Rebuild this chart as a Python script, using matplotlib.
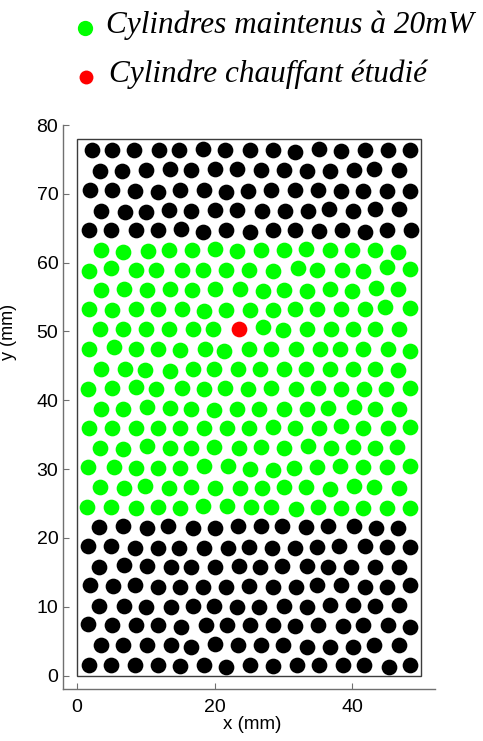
import matplotlib
matplotlib.use('Agg')
from matplotlib import pyplot as plt
from matplotlib.lines import Line2D
from matplotlib.patches import Rectangle

# cylinder centres (mm), one line per row
black_x = [
    2.1, 5.1, 8.3, 11.9, 14.8, 18.3, 21.5, 25.1, 28.4, 31.7, 35.1, 38.3, 41.8, 45.2, 48.3,
    3.3, 6.6, 10.0, 13.5, 16.6, 20.0, 23.3, 26.7, 30.1, 33.4, 36.7, 40.2, 43.2, 46.7,
    1.9, 5.1, 8.4, 11.7, 15.0, 18.5, 21.7, 24.8, 28.2, 31.6, 35.0, 38.3, 41.6, 45.0, 48.3,
    3.5, 6.9, 10.0, 13.3, 16.6, 20.1, 23.3, 26.8, 30.2, 33.5, 36.6, 40.1, 43.3, 46.7,
    1.7, 4.9, 8.5, 11.7, 15.1, 18.3, 21.7, 25.1, 28.4, 31.6, 35.1, 38.5, 41.9, 45.0, 48.5,
    3.2, 6.7, 10.2, 13.2, 16.9, 20.1, 23.4, 26.7, 29.8, 33.3, 36.4, 40.3, 43.5, 46.6,
    1.6, 5.0, 8.4, 11.7, 14.8, 18.4, 21.9, 25.0, 28.3, 31.7, 34.9, 38.1, 41.8, 45.0, 48.4,
    3.2, 6.8, 10.1, 13.7, 16.6, 20.0, 23.5, 26.6, 29.8, 33.4, 36.5, 39.8, 43.3, 46.7,
    1.9, 5.2, 8.4, 11.8, 15.0, 18.3, 21.6, 25.0, 28.4, 31.8, 34.9, 38.3, 41.9, 45.0, 48.3,
    3.2, 6.8, 10.0, 13.6, 16.8, 19.9, 23.3, 26.5, 30.0, 33.4, 36.8, 40.1, 43.3, 46.7,
    1.6, 5.1, 8.5, 11.7, 15.1, 18.7, 21.8, 25.1, 28.4, 31.7, 35.0, 38.6, 41.6, 45.1, 48.3,
    3.5, 6.7, 10.2, 13.6, 16.6, 20.1, 23.4, 26.7, 29.9, 33.4, 36.7, 40.1, 43.2, 46.7,
    1.7, 5.0, 8.4, 11.7, 15.0, 18.5, 21.7, 25.1, 28.4, 31.9, 35.1, 38.6, 41.7, 45.3, 48.4,
]
black_y = [
    76.3, 76.4, 76.3, 76.4, 76.3, 76.5, 76.4, 76.3, 76.3, 76.1, 76.5, 76.2, 76.3, 76.4, 76.3,
    73.3, 73.3, 73.4, 73.6, 73.4, 73.6, 73.6, 73.5, 73.4, 73.3, 73.3, 73.4, 73.6, 73.4,
    70.5, 70.5, 70.4, 70.3, 70.5, 70.5, 70.3, 70.4, 70.5, 70.5, 70.5, 70.4, 70.4, 70.4, 70.4,
    67.5, 67.4, 67.4, 67.6, 67.5, 67.6, 67.6, 67.5, 67.5, 67.5, 67.8, 67.5, 67.8, 67.8,
    64.7, 64.7, 64.7, 64.7, 64.9, 64.5, 64.7, 64.5, 64.7, 64.7, 64.6, 64.8, 64.5, 64.7, 64.7,
    21.6, 21.7, 21.5, 21.7, 21.5, 21.5, 21.7, 21.8, 21.7, 21.6, 21.7, 21.8, 21.5, 21.5,
    18.8, 18.8, 18.6, 18.6, 18.6, 18.6, 18.5, 18.7, 18.6, 18.5, 18.7, 18.8, 18.8, 18.7, 18.7,
    15.8, 16.0, 15.9, 15.8, 15.8, 15.7, 15.9, 15.7, 15.9, 15.9, 15.7, 15.7, 15.7, 15.8,
    13.1, 13.0, 13.1, 12.9, 12.9, 12.9, 12.8, 13.0, 12.9, 12.8, 13.1, 13.1, 12.8, 12.9, 13.2,
    10.1, 10.1, 10.0, 10.0, 10.1, 10.1, 10.0, 10.0, 10.1, 9.9, 10.2, 10.2, 10.1, 10.2,
    7.5, 7.3, 7.3, 7.3, 7.1, 7.3, 7.3, 7.3, 7.3, 7.2, 7.3, 7.2, 7.3, 7.3, 7.1,
    4.4, 4.4, 4.5, 4.4, 4.2, 4.6, 4.4, 4.5, 4.5, 4.2, 4.2, 4.1, 4.5, 4.5,
    1.6, 1.6, 1.6, 1.6, 1.4, 1.6, 1.2, 1.6, 1.4, 1.6, 1.6, 1.5, 1.5, 1.3, 1.6,
]

green_x = [
    3.5, 6.7, 10.3, 13.3, 16.7, 20.0, 23.3, 26.7, 30.1, 33.3, 36.8, 39.9, 43.3, 46.6,
    1.7, 4.9, 8.5, 11.5, 15.2, 18.3, 21.6, 25.0, 28.4, 32.1, 34.9, 38.5, 41.6, 45.0, 48.4,
    3.5, 6.8, 10.2, 13.5, 16.7, 20.1, 23.7, 27.0, 30.1, 33.4, 36.7, 40.0, 43.4, 46.6,
    1.7, 5.1, 8.5, 11.7, 15.2, 18.5, 21.7, 25.1, 28.4, 31.7, 34.9, 38.4, 41.8, 44.8, 48.4,
    3.3, 6.7, 10.0, 13.4, 16.9, 19.7, 27.0, 29.9, 33.4, 36.9, 40.1, 43.3, 46.7,
    1.7, 5.3, 8.6, 11.8, 15.0, 18.6, 21.4, 25.0, 28.2, 31.8, 35.3, 38.2, 41.6, 45.1, 48.4,
    3.5, 6.9, 9.9, 13.5, 16.8, 19.9, 23.4, 26.6, 30.0, 33.3, 36.8, 40.1, 43.3, 46.6,
    1.6, 5.1, 8.5, 11.5, 15.2, 18.4, 21.5, 24.9, 28.2, 31.8, 35.0, 38.3, 41.7, 44.9, 48.4,
    3.5, 6.7, 10.1, 13.5, 16.6, 19.9, 23.3, 26.5, 30.0, 33.4, 36.5, 40.2, 43.3, 46.8,
    1.8, 5.1, 8.6, 11.7, 14.9, 18.4, 21.8, 25.0, 28.4, 31.7, 35.1, 38.3, 41.5, 45.2, 48.4,
    3.3, 6.7, 10.2, 13.5, 16.6, 19.9, 23.5, 26.7, 30.1, 33.5, 36.9, 40.1, 43.3, 46.5,
    1.6, 5.3, 8.5, 11.7, 14.9, 18.4, 21.9, 25.1, 28.4, 31.5, 34.8, 38.2, 41.6, 45.0, 48.3,
    3.4, 6.8, 9.9, 13.3, 16.6, 20.0, 23.6, 26.8, 30.1, 33.3, 36.7, 40.2, 43.2, 46.8,
    1.5, 5.0, 8.5, 11.8, 15.0, 18.3, 21.8, 25.2, 28.2, 31.8, 35.0, 38.4, 41.6, 45.0, 48.4,
]
green_y = [
    61.8, 61.6, 61.7, 61.8, 61.9, 62.0, 61.7, 61.8, 61.8, 62.0, 61.8, 61.9, 61.8, 61.6,
    58.8, 59.2, 59.0, 59.0, 59.0, 59.0, 59.0, 59.0, 58.8, 59.2, 58.9, 59.0, 58.8, 59.3, 59.1,
    56.0, 56.2, 56.0, 56.2, 56.0, 56.1, 56.1, 55.9, 56.0, 55.9, 56.1, 55.9, 56.3, 56.1,
    53.2, 53.1, 53.3, 53.2, 53.2, 53.0, 53.1, 53.1, 53.1, 53.2, 53.3, 53.2, 53.3, 53.5, 53.4,
    50.3, 50.4, 50.3, 50.4, 50.3, 50.3, 50.6, 50.2, 50.3, 50.3, 50.3, 50.3, 50.4,
    47.5, 47.7, 47.5, 47.5, 47.3, 47.5, 47.1, 47.5, 47.5, 47.4, 47.4, 47.5, 47.5, 47.4, 47.2,
    44.6, 44.6, 44.4, 44.3, 44.5, 44.6, 44.5, 44.6, 44.6, 44.6, 44.5, 44.6, 44.6, 44.4,
    41.7, 41.8, 41.9, 41.6, 41.8, 41.6, 41.8, 41.6, 41.8, 41.7, 41.8, 41.7, 41.6, 41.6, 41.8,
    38.8, 38.7, 39.0, 38.9, 38.7, 38.6, 38.8, 38.8, 38.8, 38.7, 38.9, 39.0, 38.8, 38.8,
    36.0, 36.0, 35.9, 36.0, 36.0, 35.9, 36.0, 36.0, 36.1, 35.9, 36.0, 36.2, 35.9, 36.0, 36.1,
    33.1, 32.9, 33.3, 33.1, 33.1, 33.2, 33.1, 33.2, 33.1, 33.3, 33.1, 33.2, 33.1, 33.2,
    30.3, 30.3, 30.2, 30.2, 30.2, 30.4, 30.4, 30.0, 29.8, 30.2, 30.3, 30.5, 30.3, 30.3, 30.5,
    27.4, 27.2, 27.6, 27.3, 27.4, 27.3, 27.3, 27.3, 27.4, 27.4, 27.1, 27.5, 27.4, 27.2,
    24.5, 24.5, 24.3, 24.5, 24.3, 24.6, 24.7, 24.5, 24.5, 24.2, 24.5, 24.3, 24.3, 24.4, 24.4,
]

red_x = [23.5]
red_y = [50.4]

box_w, box_h = 50, 78
legend_labels = ['Cylindres maintenus à 20mW', 'Cylindre chauffant étudié']

W, H = 483, 741


def main():
    fig = plt.figure(figsize=(W / 100, H / 100), dpi=100)
    ax = fig.add_axes([63.3 / W, 1 - 689.3 / H, 371.7 / W, 564.3 / H])

    s = 128  # disks about 15-16 px wide
    ax.scatter(black_x, black_y, s=s, c='black', linewidths=0)
    ax.scatter(green_x, green_y, s=s, c='#00ff00', linewidths=0)
    ax.scatter(red_x, red_y, s=s, c='#ff0000', linewidths=0)

    ax.add_patch(Rectangle((0, 0), box_w, box_h, fill=False, edgecolor='#3c3c3c', lw=1.0))

    ax.set_xlim(-2, 52)
    ax.set_ylim(-2, 80)
    ax.set_xticks([0, 20, 40])
    ax.set_yticks(range(0, 81, 10))
    for side in ['top', 'right']:
        ax.spines[side].set_visible(False)
    for side in ['left', 'bottom']:
        ax.spines[side].set_color('#707070')
        ax.spines[side].set_linewidth(1.0)
    ax.tick_params(direction='in', length=4.5, width=0.8, color='#707070',
                   labelsize=14, labelcolor='black')
    ax.tick_params(axis='x', pad=7)
    ax.tick_params(axis='y', pad=3.6)
    for lab in ax.get_xticklabels() + ax.get_yticklabels():
        lab.set_family('Liberation Sans')

    ax.set_xlabel('x (mm)', fontsize=13.5, family='Liberation Sans', va='center')
    ax.set_ylabel('y (mm)', fontsize=13, family='Liberation Sans')
    ax.xaxis.set_label_coords(0.509, -0.0615)
    ax.yaxis.set_label_coords(-0.125, 0.633)

    # legend drawn by hand at the top of the figure
    fig.add_artist(Line2D([84.5 / W], [1 - 28 / H], marker='o', ms=11, color='#00ff00',
                          mew=0, transform=fig.transFigure))
    fig.add_artist(Line2D([85.5 / W], [1 - 76.5 / H], marker='o', ms=10, color='#ff0000',
                          mew=0, transform=fig.transFigure))
    fig.text(106 / W, 1 - 33.3 / H, legend_labels[0], family='Liberation Serif',
             style='italic', fontsize=22.5, va='baseline')
    fig.text(109 / W, 1 - 81.7 / H, legend_labels[1], family='Liberation Serif',
             style='italic', fontsize=22.5, va='baseline')

    fig.savefig('out.png', dpi=100)


if __name__ == '__main__':
    main()
